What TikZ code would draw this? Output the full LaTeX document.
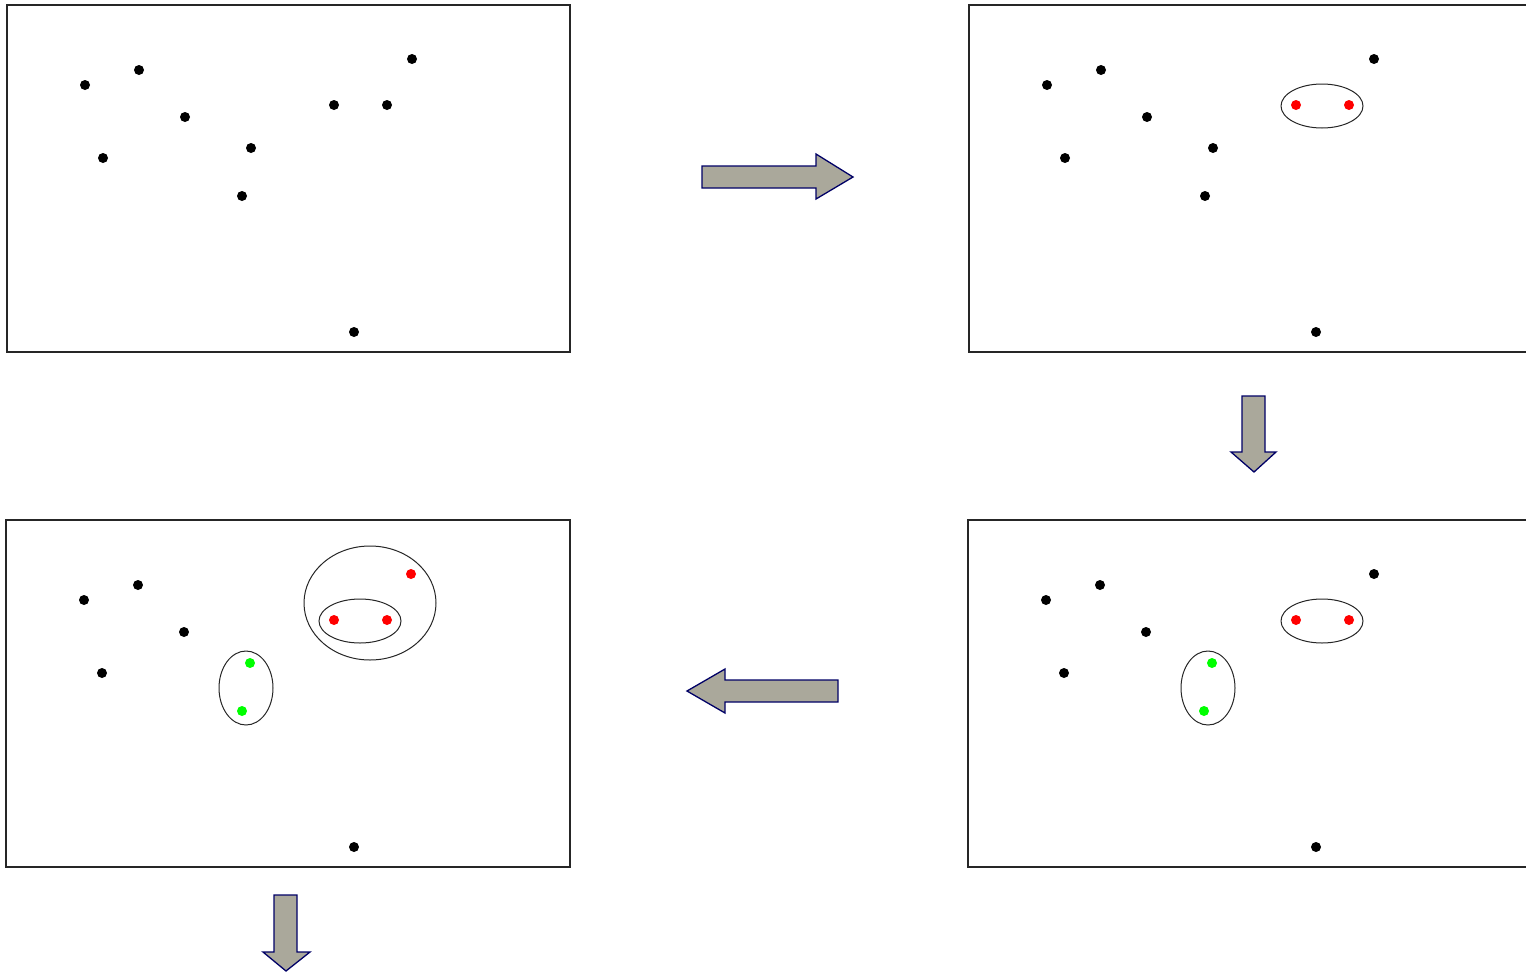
\documentclass[tikz,border=0pt]{standalone}
\begin{document}
\begin{tikzpicture}[x=1pt,y=-1pt,
  frame/.style={draw=black!85, line width=1.4pt},
  dot/.style={circle, fill=black, inner sep=0pt, minimum size=10pt},
  rdot/.style={dot, fill=red},
  gdot/.style={dot, fill=green},
  ring/.style={draw=black!85, line width=1pt},
  bigarrow/.style={draw=blue!40!black, line width=1.3pt, fill=arrowgray, line join=miter}]
\definecolor{arrowgray}{RGB}{170,168,155}
\useasboundingbox (0,0) rectangle (1526,972);
% frames
\draw[frame] (7,5) rectangle (570,352);
\draw[frame] (1530,5) -- (969,5) -- (969,352) -- (1530,352);
\draw[frame] (6,520) rectangle (570,867);
\draw[frame] (1530,520) -- (968,520) -- (968,867) -- (1530,867);
% panel 1
\node[dot] (a1) at (85,85) {};
\node[dot] (a2) at (139,70) {};
\node[dot] (a3) at (185,117) {};
\node[dot] (a4) at (103,158) {};
\node[dot] (a5) at (251,148) {};
\node[dot] (a6) at (242,196) {};
\node[dot] (a7) at (334,105) {};
\node[dot] (a8) at (387,105) {};
\node[dot] (a9) at (412,59) {};
\node[dot] (a10) at (354,332) {};
% panel 2
\node[dot] (b1) at (1047,85) {};
\node[dot] (b2) at (1101,70) {};
\node[dot] (b3) at (1147,117) {};
\node[dot] (b4) at (1065,158) {};
\node[dot] (b5) at (1213,148) {};
\node[dot] (b6) at (1205,196) {};
\node[rdot] (b7) at (1296,105) {};
\node[rdot] (b8) at (1349,105) {};
\node[dot] (b9) at (1374,59) {};
\node[dot] (b10) at (1316,332) {};
\draw[ring] (1322,106) ellipse [x radius=41, y radius=22];
% panel 4 (bottom right)
\node[dot] (d1) at (1046,600) {};
\node[dot] (d2) at (1100,585) {};
\node[dot] (d3) at (1146,632) {};
\node[dot] (d4) at (1064,673) {};
\node[gdot] (d5) at (1212,663) {};
\node[gdot] (d6) at (1204,711) {};
\node[rdot] (d7) at (1296,620) {};
\node[rdot] (d8) at (1349,620) {};
\node[dot] (d9) at (1374,574) {};
\node[dot] (d10) at (1316,847) {};
\draw[ring] (1322,621) ellipse [x radius=41, y radius=22];
\draw[ring] (1208,688) ellipse [x radius=27, y radius=37];
% panel 3 (bottom left)
\node[dot] (c1) at (84,600) {};
\node[dot] (c2) at (138,585) {};
\node[dot] (c3) at (184,632) {};
\node[dot] (c4) at (102,673) {};
\node[gdot] (c5) at (250,663) {};
\node[gdot] (c6) at (242,711) {};
\node[rdot] (c7) at (334,620) {};
\node[rdot] (c8) at (387,620) {};
\node[rdot] (c9) at (411,574) {};
\node[dot] (c10) at (354,847) {};
\draw[ring] (360,621) ellipse [x radius=41, y radius=22];
\draw[ring] (370,603) ellipse [x radius=66, y radius=57];
\draw[ring] (246,688) ellipse [x radius=27, y radius=37];
% block arrows
\draw[bigarrow] (702,166) -- (816,166) -- (816,154) -- (853,177) -- (816,199) -- (816,188) -- (702,188) -- cycle;
\draw[bigarrow] (1242,396) -- (1265,396) -- (1265,452) -- (1276,452) -- (1254,472) -- (1231,452) -- (1242,452) -- cycle;
\draw[bigarrow] (838,680) -- (725,680) -- (725,669) -- (687,691) -- (725,713) -- (725,702) -- (838,702) -- cycle;
\draw[bigarrow] (274,895) -- (297,895) -- (297,952) -- (310,952) -- (286,971) -- (263,952) -- (274,952) -- cycle;
\end{tikzpicture}
\end{document}
